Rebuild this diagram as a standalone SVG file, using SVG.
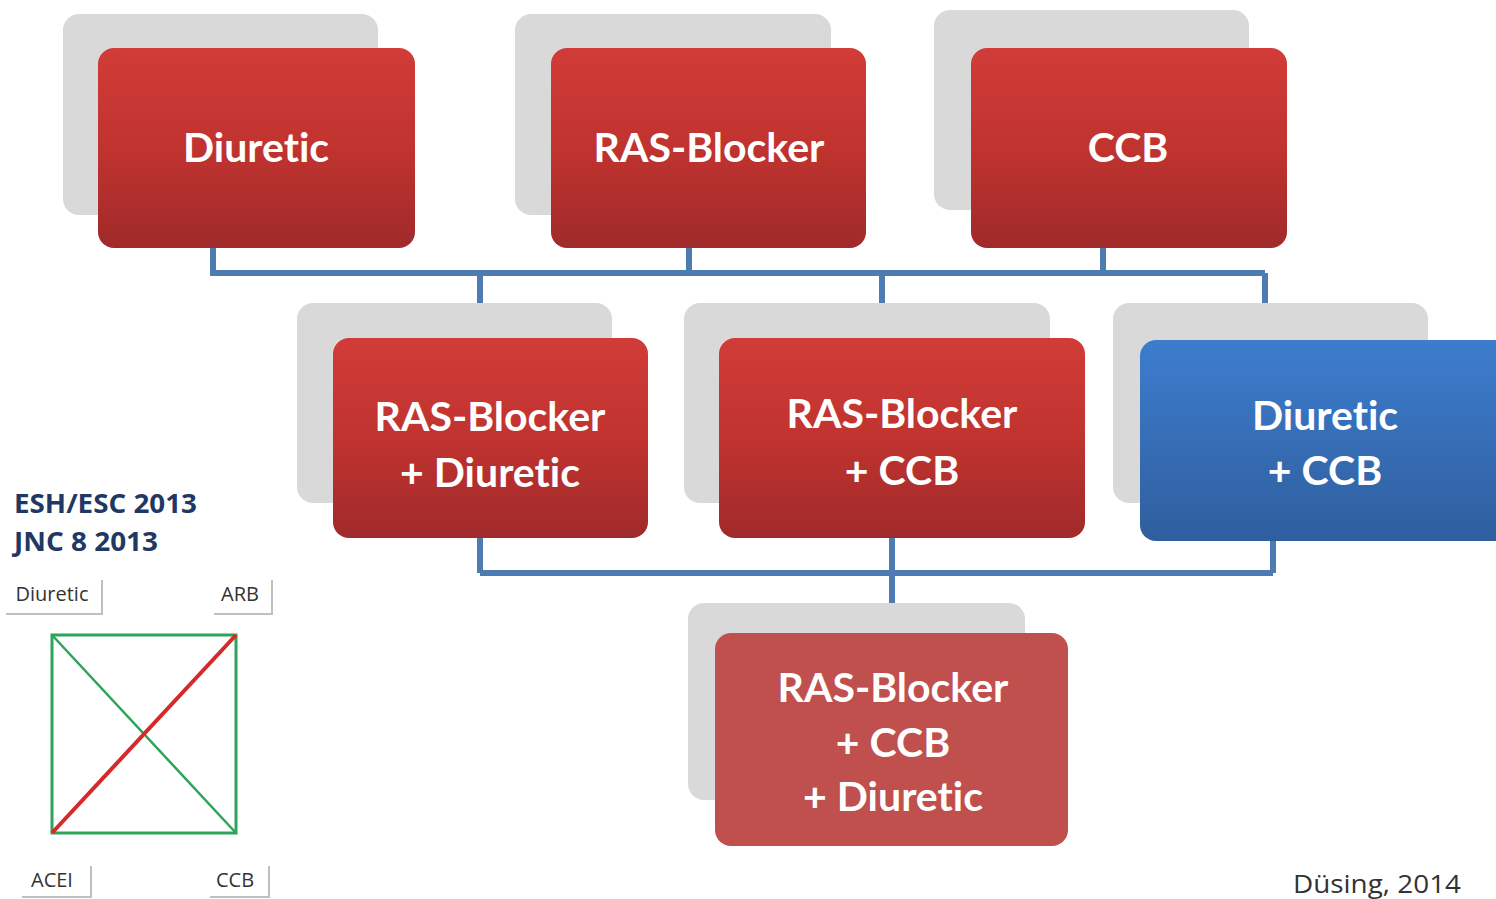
<svg xmlns="http://www.w3.org/2000/svg" width="1496" height="899" viewBox="0 0 1496 899">
<defs>
<linearGradient id="gRed" x1="0" y1="0" x2="0" y2="1">
<stop offset="0" stop-color="#d13c38"/>
<stop offset="0.5" stop-color="#c0332f"/>
<stop offset="1" stop-color="#a02a2b"/>
</linearGradient>
<linearGradient id="gBlue" x1="0" y1="0" x2="0" y2="1">
<stop offset="0" stop-color="#3d7dce"/>
<stop offset="1" stop-color="#2f5e9e"/>
</linearGradient>
<style>
.sh{fill:#d9d9d9}
.red{fill:url(#gRed)}
.blue{fill:url(#gBlue)}
.flat{fill:#c0504d}
.t{font-family:Lato,"Open Sans","Liberation Sans",sans-serif;font-weight:bold;font-size:41px;fill:#ffffff;text-anchor:middle;font-variant-ligatures:none}
.con{fill:none;stroke:#4f7bb3;stroke-width:6}
.hd{font-family:"Open Sans","Liberation Sans",sans-serif;font-weight:bold;font-size:27px;fill:#1f3864}
.sm{font-family:"Open Sans","Liberation Sans",sans-serif;font-size:20px;fill:#333;text-anchor:middle}
.lbs{fill:none;stroke:#bfbfbf;stroke-width:2}
</style>
</defs>
<rect width="1496" height="899" fill="#ffffff"/>
<g id="connectors">
<path class="con" d="M213 248V273M689 248V273M1103 248V273M210 273H1265M480 273V303M882 273V303M1265 273V303"/>
<path class="con" d="M480 538V573M892 538V603M1273 541V573M480 573H1273"/>
</g>
<g id="n-diuretic">
<rect class="sh" x="63" y="14" width="315" height="201" rx="16"/>
<rect class="red" x="98" y="48" width="317" height="200" rx="16"/>
<text class="t" x="256" y="162">Diuretic</text>
</g>
<g id="n-ras">
<rect class="sh" x="515" y="14" width="316" height="201" rx="16"/>
<rect class="red" x="551" y="48" width="315" height="200" rx="16"/>
<text class="t" x="709" y="162">RAS-Blocker</text>
</g>
<g id="n-ccb">
<rect class="sh" x="934" y="10" width="315" height="200" rx="16"/>
<rect class="red" x="971" y="48" width="316" height="200" rx="16"/>
<text class="t" x="1128" y="162">CCB</text>
</g>
<g id="n-ras-diuretic">
<rect class="sh" x="297" y="303" width="315" height="200" rx="16"/>
<rect class="red" x="333" y="338" width="315" height="200" rx="16"/>
<text class="t" x="490" y="431">RAS-Blocker</text>
<text class="t" x="490" y="487">+ Diuretic</text>
</g>
<g id="n-ras-ccb">
<rect class="sh" x="684" y="303" width="366" height="200" rx="16"/>
<rect class="red" x="719" y="338" width="366" height="200" rx="16"/>
<text class="t" x="902" y="428">RAS-Blocker</text>
<text class="t" x="902" y="485">+ CCB</text>
</g>
<g id="n-diuretic-ccb">
<rect class="sh" x="1113" y="303" width="315" height="200" rx="16"/>
<rect class="blue" x="1140" y="340" width="380" height="201" rx="16"/>
<text class="t" x="1325" y="430">Diuretic</text>
<text class="t" x="1325" y="485">+ CCB</text>
</g>
<g id="n-triple">
<rect class="sh" x="688" y="603" width="337" height="197" rx="16"/>
<rect class="flat" x="715" y="633" width="353" height="213" rx="16"/>
<text class="t" x="893" y="702">RAS-Blocker</text>
<text class="t" x="893" y="757">+ CCB</text>
<text class="t" x="893" y="811">+ Diuretic</text>
</g>
<g id="guidelines">
<text class="hd" x="14" y="513" textLength="183" lengthAdjust="spacingAndGlyphs">ESH/ESC 2013</text>
<text class="hd" x="14" y="551" textLength="144" lengthAdjust="spacingAndGlyphs">JNC 8 2013</text>
</g>
<g id="square">
<rect x="52" y="635" width="184" height="198" fill="none" stroke="#2ea35a" stroke-width="3"/>
<line x1="52" y1="635" x2="236" y2="833" stroke="#2ea35a" stroke-width="2.5"/>
<line x1="52" y1="833" x2="236" y2="635" stroke="#d42a2a" stroke-width="4"/>
</g>
<g id="lbl-diuretic">
<path class="lbs" d="M102 580V614H6"/>
<text class="sm" x="52" y="601">Diuretic</text>
</g>
<g id="lbl-arb">
<path class="lbs" d="M272 580V614H214"/>
<text class="sm" x="240" y="601">ARB</text>
</g>
<g id="lbl-acei">
<path class="lbs" d="M91 866V897H22"/>
<text class="sm" x="52" y="887">ACEI</text>
</g>
<g id="lbl-ccb">
<path class="lbs" d="M269 866V897H210"/>
<text class="sm" x="235" y="887">CCB</text>
</g>
<text x="1293" y="893" textLength="168" lengthAdjust="spacingAndGlyphs" style="font-family:'Open Sans','Liberation Sans',sans-serif;font-size:25px;fill:#333">Düsing, 2014</text>
</svg>
